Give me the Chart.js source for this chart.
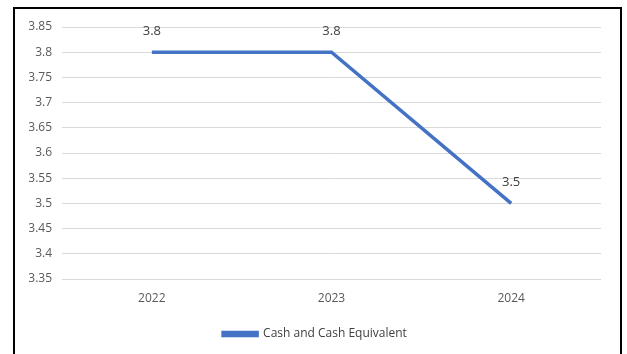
<!DOCTYPE html>
<html>
<head>
<meta charset="utf-8">
<script src="https://cdn.jsdelivr.net/npm/chart.js@4"></script>
<style>
  body { margin: 0; background: #fff; }
  #frame {
    position: absolute;
    left: 13px;
    top: 7px;
    width: 605px;
    height: 347px;
    border: 2px solid #000;
    border-bottom: none;
    background: #fff;
  }
  #frame canvas { display: block; }
</style>
</head>
<body>
<div id="frame"><canvas id="myChart" width="605" height="347"></canvas></div>
<script>
const years = ['2022', '2023', '2024'];
const cashValues = [3.8, 3.8, 3.5];
const seriesName = 'Cash and Cash Equivalent';

// writes each value just above its point
const valueLabels = {
  id: 'valueLabels',
  afterDatasetsDraw(chart) {
    const ctx = chart.ctx;
    const meta = chart.getDatasetMeta(0);
    ctx.save();
    ctx.font = '13px "Open Sans"';
    ctx.fillStyle = '#404040';
    ctx.textAlign = 'center';
    ctx.textBaseline = 'middle';
    meta.data.forEach((point, i) => {
      ctx.fillText(String(cashValues[i]), point.x, point.y - 21);
    });
    ctx.restore();
  },
};

const ctx = document.getElementById('myChart').getContext('2d');
const myChart = new Chart(ctx, {
  type: 'line',
  data: {
    labels: years,
    datasets: [
      {
        label: seriesName,
        data: cashValues,
        borderColor: '#4472C4',
        backgroundColor: '#4472C4',
        borderWidth: 3.5,
        pointRadius: 0,
        tension: 0,
      },
    ],
  },
  options: {
    responsive: false,
    animation: false,
    layout: {
      padding: { left: 14, right: 19, top: 18, bottom: 6 },
    },
    plugins: {
      legend: {
        position: 'bottom',
        labels: {
          boxWidth: 34,
          boxHeight: 3,
          color: '#404040',
          font: { family: 'Open Sans', size: 12 },
          padding: 8,
        },
      },
      tooltip: { enabled: false },
    },
    scales: {
      x: {
        offset: true,
        grid: { display: false, drawTicks: false },
        border: { display: false },
        ticks: {
          color: '#595959',
          font: { family: 'Open Sans', size: 12 },
          padding: 12,
        },
        afterFit: scale => { scale.height = 41; },
      },
      y: {
        min: 3.35,
        max: 3.85,
        grid: { color: '#d9d9d9', drawTicks: false },
        border: { display: false },
        ticks: {
          stepSize: 0.05,
          color: '#595959',
          font: { family: 'Open Sans', size: 12 },
          padding: 10,
          callback: value => String(Math.round(value * 100) / 100),
        },
        afterFit: scale => { scale.width = 33; },
      },
    },
  },
  plugins: [valueLabels],
});
</script>
</body>
</html>
